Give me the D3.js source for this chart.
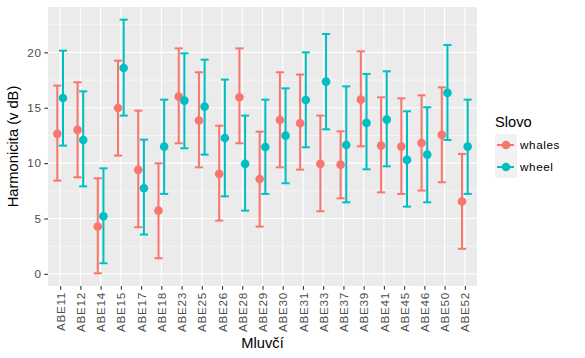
<!DOCTYPE html>
<html><head><meta charset="utf-8">
<script src="https://cdn.jsdelivr.net/npm/d3@7"></script>
<style>body{margin:0;background:#fff}svg{display:block;font-family:"Liberation Sans",Arial,sans-serif}</style>
</head><body><svg id="c" width="585" height="358"></svg>
<script>
const categories = ["ABE11","ABE12","ABE14","ABE15","ABE17","ABE18","ABE23","ABE25","ABE26","ABE28","ABE29","ABE30","ABE31","ABE33","ABE37","ABE39","ABE41","ABE45","ABE46","ABE50","ABE52"];
const seriesNames = ["whales","wheel"];
const whalesMean  = [12.64,13.0,4.27,14.98,9.39,5.71,16.0,13.84,9.03,15.94,8.57,13.9,13.6,9.93,9.86,15.73,11.58,11.49,11.82,12.55,6.53];
const whalesLower = [8.42,8.72,0.05,10.68,4.21,1.41,11.79,9.62,4.81,11.79,4.27,9.62,9.41,5.65,6.82,11.52,7.36,7.22,7.52,8.27,2.26];
const whalesUpper = [17.0,17.3,8.63,19.25,14.74,9.98,20.36,18.2,13.38,20.36,12.84,18.2,18.0,14.29,12.87,20.09,15.94,15.85,16.12,16.84,10.83];
const wheelMean   = [15.88,12.09,5.2,18.59,7.73,11.49,15.64,15.1,12.27,9.93,11.46,12.48,15.7,17.36,11.64,13.63,13.93,10.29,10.77,16.34,11.49];
const wheelLower  = [11.58,7.9,0.96,14.29,3.55,7.22,11.34,10.77,7.0,5.71,7.22,8.18,11.43,13.05,6.46,9.44,9.71,6.07,6.46,12.09,7.22];
const wheelUpper  = [20.15,16.48,9.53,22.95,12.12,15.73,19.91,19.34,17.54,14.29,15.73,16.75,20.0,21.66,16.93,18.05,18.29,14.68,15.04,20.67,15.73];
const yTicks = [0,5,10,15,20];
const colors = {whales:"#F8766D", wheel:"#00BFC4"};

const data = [];
categories.forEach((c,i)=>{
  data.push({cat:c, s:"whales", m:whalesMean[i], lo:whalesLower[i], hi:whalesUpper[i]});
  data.push({cat:c, s:"wheel", m:wheelMean[i], lo:wheelLower[i], hi:wheelUpper[i]});
});

const svg = d3.select("#c");
const L=48, R=477, T=7, B=286;
const x = d3.scalePoint().domain(categories).range([L,R]).padding(0.6);
const step = x.step();
const allV = data.flatMap(d=>[d.lo,d.hi]);
const mn = d3.min(allV), mx = d3.max(allV), ex = (mx-mn)*0.05;
const y = d3.scaleLinear().domain([mn-ex, mx+ex]).range([B,T]);
const dodge = {whales:-0.14*step, wheel:0.14*step};
const capW = 0.4*step;

svg.append("rect").attr("x",L).attr("y",T).attr("width",R-L).attr("height",B-T).attr("fill","#EBEBEB");
const g = svg.append("g");
const minor = [];
for(let i=0;i<yTicks.length-1;i++) minor.push((yTicks[i]+yTicks[i+1])/2);
minor.push(yTicks[yTicks.length-1]+2.5);
minor.filter(v=>y(v)>=T).forEach(v=>{
  g.append("line").attr("x1",L).attr("x2",R).attr("y1",y(v)).attr("y2",y(v)).attr("stroke","#fff").attr("stroke-width",0.55);
});
yTicks.forEach(v=>{
  g.append("line").attr("x1",L).attr("x2",R).attr("y1",y(v)).attr("y2",y(v)).attr("stroke","#fff").attr("stroke-width",1.1);
});
categories.forEach(c=>{
  g.append("line").attr("x1",x(c)).attr("x2",x(c)).attr("y1",T).attr("y2",B).attr("stroke","#fff").attr("stroke-width",1.1);
});

const eb = svg.append("g");
data.forEach(d=>{
  const cx = x(d.cat)+dodge[d.s], col = colors[d.s];
  eb.append("line").attr("x1",cx).attr("x2",cx).attr("y1",y(d.lo)).attr("y2",y(d.hi)).attr("stroke",col).attr("stroke-width",2);
  eb.append("line").attr("x1",cx-capW/2).attr("x2",cx+capW/2).attr("y1",y(d.lo)).attr("y2",y(d.lo)).attr("stroke",col).attr("stroke-width",2);
  eb.append("line").attr("x1",cx-capW/2).attr("x2",cx+capW/2).attr("y1",y(d.hi)).attr("y2",y(d.hi)).attr("stroke",col).attr("stroke-width",2);
});
svg.append("g").selectAll("circle").data(data).join("circle")
  .attr("cx",d=>x(d.cat)+dodge[d.s]).attr("cy",d=>y(d.m)).attr("r",4.3).attr("fill",d=>colors[d.s]);

const yAxis = d3.axisLeft(y).tickValues(yTicks).tickSize(3.7).tickPadding(2.5);
const ya = svg.append("g").attr("transform",`translate(${L},0)`).call(yAxis);
ya.select(".domain").remove();
ya.selectAll("line").attr("stroke","#333333").attr("stroke-width",1.1);
ya.selectAll("text").attr("fill","#4D4D4D").attr("font-size",11.7).attr("letter-spacing",0.8).attr("font-family","Liberation Sans, Arial, sans-serif");

const xAxis = d3.axisBottom(x).tickSize(3.7).tickPadding(2.5);
const xa = svg.append("g").attr("transform",`translate(0,${B})`).call(xAxis);
xa.select(".domain").remove();
xa.selectAll("line").attr("stroke","#333333").attr("stroke-width",1.1);
xa.selectAll("text").attr("fill","#4D4D4D").attr("font-size",11.7).attr("letter-spacing",0.7).attr("font-family","Liberation Sans, Arial, sans-serif")
  .attr("transform","rotate(-90)").attr("text-anchor","end").attr("dy","0.35em").attr("x",-6).attr("y",0);

svg.append("text").attr("x",(L+R)/2).attr("y",348).attr("text-anchor","middle").attr("font-size",14.7).attr("fill","#000").text("Mluvčí");
svg.append("text").attr("transform",`translate(18,${(T+B)/2}) rotate(-90)`).attr("text-anchor","middle").attr("font-size",14.7).attr("fill","#000").text("Harmonicita (v dB)");

const lg = svg.append("g");
lg.append("text").attr("x",495).attr("y",127).attr("font-size",14.7).attr("fill","#000").text("Slovo");
seriesNames.forEach((s,i)=>{
  const ky = 134 + i*22;
  lg.append("rect").attr("x",495).attr("y",ky).attr("width",22).attr("height",22).attr("fill","#F2F2F2");
  lg.append("line").attr("x1",497).attr("x2",514).attr("y1",ky+11).attr("y2",ky+11).attr("stroke",colors[s]).attr("stroke-width",2);
  lg.append("circle").attr("cx",506).attr("cy",ky+11).attr("r",4.3).attr("fill",colors[s]);
  lg.append("text").attr("x",520).attr("y",ky+11).attr("dy","0.35em").attr("font-size",11.7).attr("letter-spacing",0.6).attr("fill","#000").text(s);
});
</script></body></html>
